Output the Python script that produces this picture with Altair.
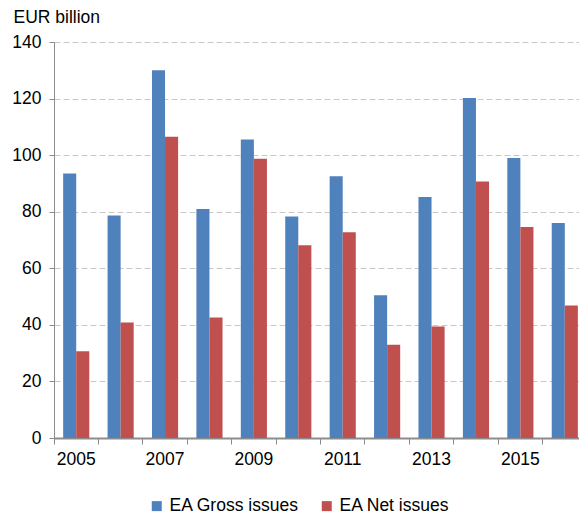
import altair as alt
import pandas as pd

years = list(range(2005, 2017))
series = ["EA Gross issues", "EA Net issues"]
colors = ["#4F81BD", "#C0504D"]
gross = [93.5, 78.7, 130.0, 81.0, 105.5, 78.3, 92.5, 50.5, 85.2, 120.2, 99.0, 76.0]
net = [30.7, 40.8, 106.5, 42.6, 98.7, 68.1, 72.7, 33.0, 39.4, 90.7, 74.6, 46.8]
y_ticks = [0, 20, 40, 60, 80, 100, 120, 140]

rows = []
for i, yr in enumerate(years):
    rows.append({"year": yr, "series": series[0], "value": gross[i]})
    rows.append({"year": yr, "series": series[1], "value": net[i]})
df = pd.DataFrame(rows)

FONT = "Liberation Sans"
FS = 17.5
AX = "#8c8c8c"

chart = alt.Chart(df).mark_bar().encode(
    x=alt.X(
        "year:O",
        scale=alt.Scale(paddingInner=0, paddingOuter=0),
        axis=alt.Axis(
            title=None,
            labelAngle=0,
            bandPosition=0,
            labelExpr="datum.value % 2 == 1 ? datum.label : ''",
            labelOverlap=False,
            tickSize=6,
            tickColor=AX,
            domainColor=AX,
            domainWidth=2,
            labelPadding=6,
            labelFontSize=FS,
            labelFont=FONT,
            labelColor="#000000",
            grid=False,
        ),
    ),
    xOffset=alt.XOffset(
        "series:N",
        sort=series,
        scale=alt.Scale(domain=series, paddingOuter=0.7, paddingInner=0),
    ),
    y=alt.Y(
        "value:Q",
        scale=alt.Scale(domain=[0, 140], nice=False),
        axis=alt.Axis(
            values=y_ticks,
            title="EUR billion",
            titleAngle=0,
            titleX=-41,
            titleY=-20,
            titleAlign="left",
            titleBaseline="alphabetic",
            titleFont=FONT,
            titleFontSize=FS,
            titleFontWeight="normal",
            titleColor="#000000",
            tickSize=5,
            tickColor=AX,
            domainColor=AX,
            labelPadding=8,
            labelFontSize=FS,
            labelFont=FONT,
            labelColor="#000000",
            grid=True,
            gridColor="#c8c8c8",
            gridDash=[6, 3],
            gridWidth=1,
        ),
    ),
    color=alt.Color(
        "series:N",
        scale=alt.Scale(domain=series, range=colors),
        legend=alt.Legend(
            title=None,
            orient="none",
            legendX=94,
            legendY=455,
            direction="horizontal",
            symbolType="square",
            symbolSize=100,
            symbolStrokeWidth=0,
            labelFont=FONT,
            labelFontSize=FS,
            labelColor="#000000",
            labelOffset=4,
            columnPadding=19,
        ),
    ),
).properties(
    width=533,
    height=396,
    autosize=alt.AutoSizeParams(type="none"),
    padding={"left": 46, "top": 34, "right": -8, "bottom": 76},
).configure_view(stroke=None)

chart.save("out.html", embed_options={"renderer": "svg", "actions": False})
